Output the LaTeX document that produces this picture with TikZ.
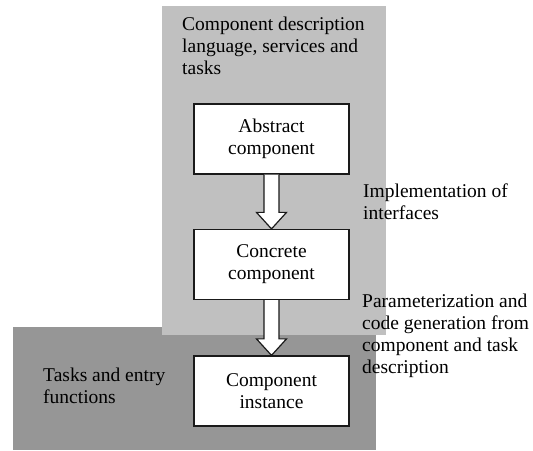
\documentclass[tikz,border=0pt]{standalone}
\usepackage{fontspec}
\setmainfont{Liberation Serif}
\usetikzlibrary{calc}
\definecolor{lightbg}{HTML}{C0C0C0}
\definecolor{darkbg}{HTML}{969696}
\definecolor{edge}{HTML}{1A1A1A}
\tikzset{
  txt/.style={font=\fontsize{19.5}{22}\selectfont, inner sep=0pt, align=left, anchor=north west},
  compbox/.style={draw=edge, line width=1.2pt, fill=white, minimum width=155pt, minimum height=70pt,
    font=\fontsize{19.5}{22}\selectfont, align=center, inner sep=0pt},
  hollow/.style={draw=edge, line width=1.2pt, fill=white, line join=miter}
}
\begin{document}
\begin{tikzpicture}[x=1pt,y=1pt]
\useasboundingbox (0,0) rectangle (533,450);
\fill[white] (0,0) rectangle (533,450);
% background regions
\fill[darkbg] (13,0) rectangle (376,123);
\fill[lightbg] (162,115) rectangle (386,444);
% boxes
\node[compbox] (abs) at (271.5,311) {Abstract\\component};
\node[compbox] (con) at (271.5,185.5) {Concrete\\component};
\node[compbox] (inst) at (271.5,59) {Component\\instance};
% hollow arrows
\draw[hollow] ($(abs.south)+(-7.5,0)$) -- ($(con.north)+(-7.5,16.5)$) -- ($(con.north)+(-15,16.5)$) -- (con.north)
  -- ($(con.north)+(15,16.5)$) -- ($(con.north)+(7.5,16.5)$) -- ($(abs.south)+(7.5,0)$);
\draw[hollow] ($(con.south)+(-7.5,0)$) -- ($(inst.north)+(-7.5,16.5)$) -- ($(inst.north)+(-15,16.5)$) -- (inst.north)
  -- ($(inst.north)+(15,16.5)$) -- ($(inst.north)+(7.5,16.5)$) -- ($(con.south)+(7.5,0)$);
% labels
\node[txt] (lcdl) at (182,433.3) {Component description\\language, services and\\tasks};
\node[txt] (limp) at (363,266.3) {Implementation of\\interfaces};
\node[txt] (lpar) at (362,156.3) {Parameterization and\\code generation from\\component and task\\description};
\node[txt] (ltask) at (43,82.3) {Tasks and entry\\functions};
\end{tikzpicture}
\end{document}
